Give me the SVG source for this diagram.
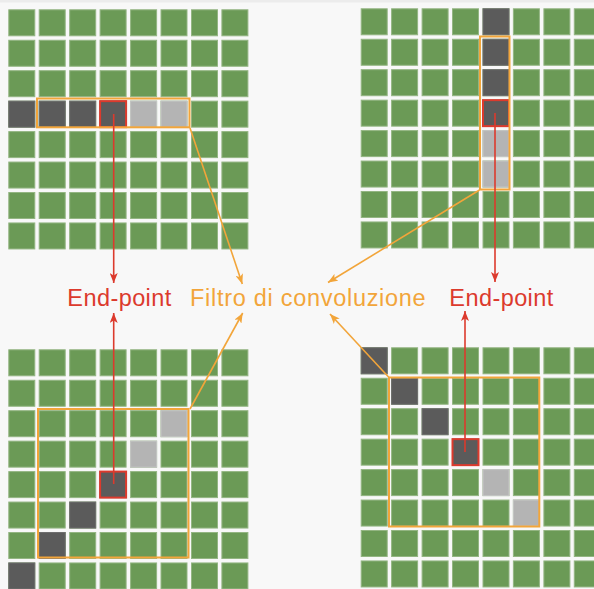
<svg xmlns="http://www.w3.org/2000/svg" xmlns:xlink="http://www.w3.org/1999/xlink" width="594" height="589" viewBox="0 0 594 589">
<style>
.g{fill:#6b9a56;stroke:#93b582;stroke-width:1}
.d{fill:#5b5b5b;stroke:#6e6e6e;stroke-width:1}
.l{fill:#b4b4b4;stroke:#c6c6c6;stroke-width:1}
.ep{fill:none;stroke:#dc3a2d;stroke-width:2}
.win{fill:none;stroke:#f2a53a;stroke-width:2}
.ra{stroke:#dc3a2d;stroke-width:1.6;fill:none;marker-end:url(#ar)}
.oa{stroke:#f2a53a;stroke-width:1.6;fill:none;marker-end:url(#ao)}
.t{font-family:"Liberation Sans",Arial,sans-serif;font-size:23.5px}
</style>
<defs>
<marker id="ar" viewBox="0 0 10 8" refX="10" refY="4" markerWidth="10" markerHeight="8" markerUnits="userSpaceOnUse" orient="auto"><path d="M0,0 L10,4 L0,8 L2.5,4 z" fill="#dc3a2d"/></marker>
<marker id="ao" viewBox="0 0 10 8" refX="10" refY="4" markerWidth="10" markerHeight="8" markerUnits="userSpaceOnUse" orient="auto"><path d="M0,0 L10,4 L0,8 L2.5,4 z" fill="#f2a53a"/></marker>
<g id="row">
<rect class="g" x="0.5" y="0.5" width="26" height="26"/><rect class="g" x="30.9" y="0.5" width="26" height="26"/><rect class="g" x="61.4" y="0.5" width="26" height="26"/><rect class="g" x="91.8" y="0.5" width="26" height="26"/><rect class="g" x="122.3" y="0.5" width="26" height="26"/><rect class="g" x="152.7" y="0.5" width="26" height="26"/><rect class="g" x="183.2" y="0.5" width="26" height="26"/><rect class="g" x="213.6" y="0.5" width="26" height="26"/>
</g>
<g id="grid">
<use xlink:href="#row" y="0"/><use xlink:href="#row" y="30.45"/><use xlink:href="#row" y="60.9"/><use xlink:href="#row" y="91.35"/><use xlink:href="#row" y="121.8"/><use xlink:href="#row" y="152.25"/><use xlink:href="#row" y="182.7"/><use xlink:href="#row" y="213.15"/>
</g>
</defs>
<rect x="0" y="0" width="594" height="589" fill="#f8f8f8"/>
<rect x="0" y="0" width="594" height="2.5" fill="#ececec"/>

<g id="grid-top-left" transform="translate(8.3,9.3)">
<use xlink:href="#grid"/>
<rect class="d" x="0.5" y="91.85" width="26" height="26"/><rect class="d" x="30.9" y="91.85" width="26" height="26"/><rect class="d" x="61.4" y="91.85" width="26" height="26"/><rect class="d" x="91.8" y="91.85" width="26" height="26"/><rect class="l" x="122.3" y="91.85" width="26" height="26"/><rect class="l" x="152.7" y="91.85" width="26" height="26"/>
<rect class="ep" x="91.8" y="91.85" width="26" height="26"/>
</g>

<g id="grid-top-right" transform="translate(360.7,8.3)">
<use xlink:href="#grid"/>
<rect class="d" x="122.3" y="0.5" width="26" height="26"/><rect class="d" x="122.3" y="30.95" width="26" height="26"/><rect class="d" x="122.3" y="61.4" width="26" height="26"/><rect class="d" x="122.3" y="91.85" width="26" height="26"/><rect class="l" x="122.3" y="122.3" width="26" height="26"/><rect class="l" x="122.3" y="152.75" width="26" height="26"/>
<rect class="ep" x="122.3" y="91.85" width="26" height="26"/>
</g>

<g id="grid-bottom-left" transform="translate(8.3,349.3)">
<use xlink:href="#grid"/>
<rect class="l" x="152.7" y="61.4" width="26" height="26"/><rect class="l" x="122.3" y="91.85" width="26" height="26"/><rect class="d" x="91.8" y="122.3" width="26" height="26"/><rect class="d" x="61.4" y="152.75" width="26" height="26"/><rect class="d" x="30.9" y="183.2" width="26" height="26"/><rect class="d" x="0.5" y="213.65" width="26" height="26"/>
<rect class="ep" x="91.8" y="122.3" width="26" height="26"/>
</g>

<g id="grid-bottom-right" transform="translate(360.7,347.3)">
<use xlink:href="#grid"/>
<rect class="d" x="0.5" y="0.5" width="26" height="26"/><rect class="d" x="30.9" y="30.95" width="26" height="26"/><rect class="d" x="61.4" y="61.4" width="26" height="26"/><rect class="d" x="91.8" y="91.85" width="26" height="26"/><rect class="l" x="122.3" y="122.3" width="26" height="26"/><rect class="l" x="152.7" y="152.75" width="26" height="26"/>
<rect class="ep" x="91.8" y="91.85" width="26" height="26"/>
</g>

<g id="filter-windows">
<rect class="win" x="37" y="98.5" width="152.5" height="28.8"/>
<rect class="win" x="480" y="36.5" width="29.5" height="153"/>
<rect class="win" x="38" y="409" width="150.5" height="148.5"/>
<rect class="win" x="389" y="377.5" width="150.3" height="149"/>
</g>

<g id="connectors">
<line class="ra" x1="113.7" y1="114" x2="113.7" y2="283"/>
<line class="ra" x1="113.7" y1="484" x2="113.7" y2="313"/>
<line class="ra" x1="495" y1="113" x2="495" y2="282"/>
<line class="ra" x1="465" y1="452" x2="465" y2="311"/>
<line class="oa" x1="190" y1="128" x2="242.3" y2="284"/>
<line class="oa" x1="190" y1="409" x2="242.7" y2="313"/>
<line class="oa" x1="479.5" y1="190" x2="328" y2="282.5"/>
<line class="oa" x1="389" y1="377.5" x2="330" y2="314"/>
</g>

<g id="label-endpoint-left"><text class="t" x="67.3" y="305.7" fill="#dc3a2d" textLength="104" lengthAdjust="spacing">End-point</text></g>
<g id="label-filter"><text class="t" x="190" y="305.7" fill="#f2a53a" textLength="235.7" lengthAdjust="spacing">Filtro di convoluzione</text></g>
<g id="label-endpoint-right"><text class="t" x="449.3" y="305.7" fill="#dc3a2d" textLength="104" lengthAdjust="spacing">End-point</text></g>
</svg>
